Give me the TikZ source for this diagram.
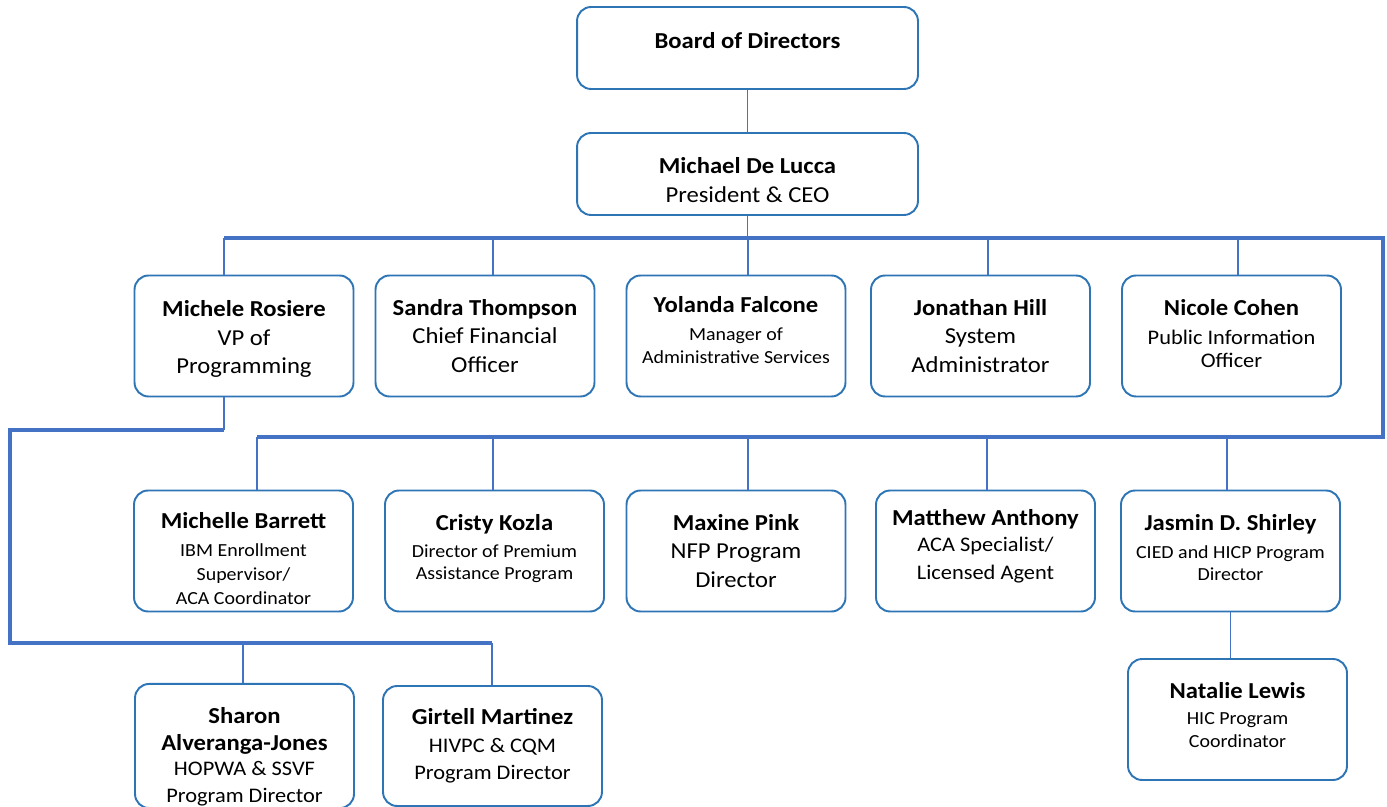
\documentclass[tikz,border=0pt]{standalone}
\usepackage{fontspec}
\setmainfont{Carlito}[FakeStretch=1.08]
\definecolor{boxblue}{HTML}{2E75B6}
\definecolor{linkblue}{HTML}{4472C4}
\newcommand{\nm}[1]{{\bfseries #1}}
\newcommand{\tS}[1]{{\fontsize{10.5}{12}\selectfont #1}}
\newcommand{\tM}[1]{{\fontsize{11.8}{14}\selectfont #1}}
% struts that move a box's text down or up
\newcommand{\dropby}[1]{\rule{0pt}{#1}}
\newcommand{\liftby}[1]{\rule[-#1]{0pt}{#1}}
\tikzset{
  staff/.style={draw=boxblue, line width=1.1pt, rounded corners=8pt, fill=white,
    minimum width=4.38cm, minimum height=2.42cm, align=center, inner sep=1pt,
    font=\fontsize{13}{16.4}\selectfont},
  head/.style={staff, minimum width=6.82cm, minimum height=1.64cm},
  link/.style={draw=linkblue, line width=0.8pt},
  bus/.style={draw=linkblue, line width=2.3pt},
}
\begin{document}
\begin{tikzpicture}[x=0.02cm, y=-0.02cm]
\useasboundingbox (0,0) rectangle (1387,807);
% top of the chart
\node[head] (board) at (747.5,48) {\nm{Board of Directors}\liftby{9pt}};
\node[head] (ceo) at (747.5,174) {\dropby{16pt}\nm{Michael De Lucca}\\President \& CEO};
% first row
\node[staff] (rosiere) at (244,336) {\dropby{12.6pt}\nm{Michele Rosiere}\\VP of\\Programming};
\node[staff] (thompson) at (485,336) {\nm{Sandra Thompson}\\Chief Financial\\Officer};
\node[staff] (falcone) at (736,336) {\nm{Yolanda Falcone}\\[-0.5pt]\tS{Manager of}\\[-3.4pt]\tS{Administrative Services}\liftby{6.8pt}};
\node[staff] (hill) at (980.5,336) {\nm{Jonathan Hill}\\System\\Administrator};
\node[staff] (cohen) at (1231.5,336) {\nm{Nicole Cohen}\\\tM{Public Information}\\[-2.8pt]\tM{Officer}\liftby{2.8pt}};
% second row
\node[staff] (barrett) at (243.5,551) {\dropby{17.7pt}\nm{Michelle Barrett}\\[-0.5pt]\tS{IBM Enrollment}\\[-2.5pt]\tS{Supervisor/}\\[-2.5pt]\tS{ACA Coordinator}};
\node[staff] (kozla) at (494.5,551) {\nm{Cristy Kozla}\\[-1.1pt]\tS{Director of Premium}\\[-3.4pt]\tS{Assistance Program}\liftby{4.5pt}};
\node[staff] (pink) at (736,551) {\nm{Maxine Pink}\\NFP Program\\Director};
\node[staff] (anthony) at (985.5,551) {\nm{Matthew Anthony}\\[-1.1pt]\tM{ACA Specialist/}\\[-0.5pt]\tM{Licensed Agent}\liftby{7.4pt}};
\node[staff] (shirley) at (1230.5,551) {\nm{Jasmin D. Shirley}\\[-0.5pt]\tS{CIED and HICP Program}\\[-3.4pt]\tS{Director}\liftby{4pt}};
% third row
\node[staff, minimum height=2.4cm] (alveranga) at (244.5,746) {\dropby{21.3pt}\nm{Sharon}\\[-1.1pt]\nm{Alveranga-Jones}\\[-1.7pt]\tM{HOPWA \& SSVF}\\[-1.1pt]\tM{Program Director}};
\node[staff, minimum height=2.4cm] (martinez) at (492.5,746) {\nm{Girtell Martinez}\\[-0.5pt]\tM{HIVPC \& CQM}\\[-1.1pt]\tM{Program Director}};
\node[staff] (lewis) at (1237.5,719.5) {\nm{Natalie Lewis}\\[-1.7pt]\tS{HIC Program}\\[-2.8pt]\tS{Coordinator}\liftby{5.1pt}};
% buses
\coordinate (busL) at (224,238);
\coordinate (busR) at (1383,238);
\coordinate (busE) at (257,437);
\coordinate (vp) at (224,430);
\coordinate (vpE) at (492,643);
\draw[link] (board) -- (ceo);
\draw[link] (ceo) -- (ceo |- busL);
\draw[bus] (busL) -- (busR) |- (busE);
\foreach \x/\n in {224/rosiere,493/thompson,748/falcone,988/hill,1238/cohen}{
  \coordinate (t\n) at (\x,238);
  \draw[link] (t\n) -- (t\n |- \n.north);
}
\foreach \x/\n in {257/barrett,493/kozla,748/pink,987/anthony,1227/shirley}{
  \coordinate (t\n) at (\x,437);
  \draw[link] (t\n) -- (t\n |- \n.north);
}
\draw[link] (rosiere.south -| vp) -- (vp);
\draw[bus] (vp) -- ++(-214,0) |- (vpE);
\foreach \x/\n in {243/alveranga,492/martinez}{
  \coordinate (t\n) at (\x,643);
  \draw[link] (t\n) -- (t\n |- \n.north);
}
\draw[link] (shirley.south) -- (shirley.south |- lewis.north);
\end{tikzpicture}
\end{document}
